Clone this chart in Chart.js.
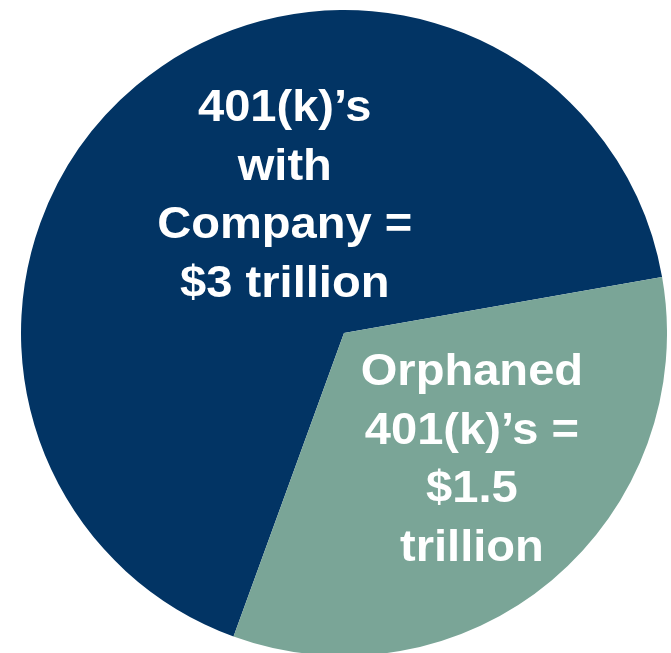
<!DOCTYPE html>
<html>
<head>
<meta charset="utf-8">
<title>401(k) assets</title>
<script src="https://cdn.jsdelivr.net/npm/chart.js@4"></script>
<style>
  html, body { margin: 0; padding: 0; background: #ffffff; overflow: hidden; }
  #wrap { position: absolute; left: 21px; top: 10px; width: 646px; height: 646px; }
</style>
</head>
<body>
<div id="wrap"><canvas id="assetPie" width="646" height="646"></canvas></div>
<script>
// slices, in trillions of dollars
const categories = ["401(k)’s with Company", "Orphaned 401(k)’s"];
const values = [3, 1.5];
const sliceColors = ["#023464", "#7aa597"];

// text drawn inside each slice
const sliceText = [
  ["401(k)’s", "with", "Company =", "$" + values[0] + " trillion"],
  ["Orphaned", "401(k)’s =", "$" + values[1], "trillion"],
];

// where the text block sits: angle (deg, from 3 o'clock) and fraction of radius
const textPlace = [
  { angle: -113.5, dist: 0.46 },
  { angle: 45, dist: 0.56 },
];

const sliceLabels = {
  id: "sliceLabels",
  afterDatasetsDraw(chart) {
    const ctx = chart.ctx;
    const meta = chart.getDatasetMeta(0);
    ctx.save();
    ctx.fillStyle = "#ffffff";
    ctx.font = "bold 44px 'Liberation Sans', Arial, sans-serif";
    ctx.textAlign = "center";
    ctx.textBaseline = "middle";
    meta.data.forEach((arc, i) => {
      const p = arc.getProps(["x", "y", "outerRadius"], true);
      const a = textPlace[i].angle * Math.PI / 180;
      const cx = p.x + Math.cos(a) * p.outerRadius * textPlace[i].dist;
      const cy = p.y + Math.sin(a) * p.outerRadius * textPlace[i].dist;
      const lines = sliceText[i];
      const lh = 58.5;
      lines.forEach((line, k) => {
        const y = cy + (k - (lines.length - 1) / 2) * lh;
        ctx.save();
        ctx.translate(cx, y);
        ctx.scale(1.07, 1);
        ctx.fillText(line, 0, 0);
        ctx.restore();
      });
    });
    ctx.restore();
  },
};

const ctx = document.getElementById("assetPie").getContext("2d");
new Chart(ctx, {
  type: "pie",
  data: {
    labels: categories,
    datasets: [
      {
        data: values,
        backgroundColor: sliceColors,
        borderWidth: 0,
        hoverOffset: 0,
      },
    ],
  },
  options: {
    responsive: false,
    animation: false,
    rotation: 200,
    layout: { padding: 0 },
    plugins: {
      legend: { display: false },
      tooltip: { enabled: false },
    },
  },
  plugins: [sliceLabels],
});
</script>
</body>
</html>
